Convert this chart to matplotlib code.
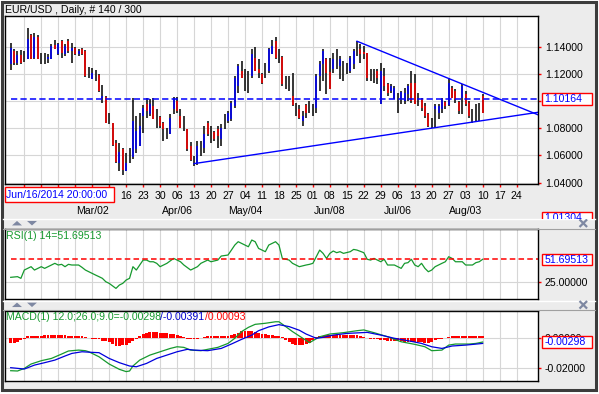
import matplotlib
matplotlib.use('Agg')
import matplotlib.pyplot as plt
import matplotlib.transforms as mtransforms
from matplotlib.patches import Rectangle, Polygon
from matplotlib.lines import Line2D
import numpy as np

plt.rcParams['font.family'] = ['Liberation Sans', 'DejaVu Sans']
plt.rcParams['font.size'] = 7.6
plt.rcParams['lines.scale_dashes'] = False

# ---- price bars (daily EUR/USD, 140 bars) ----
high = [1.1430, 1.1381, 1.1369, 1.1374, 1.1369, 1.1535, 1.1491, 1.1503, 1.1484, 1.1351,
        1.1351, 1.1349, 1.1418, 1.1450, 1.1430, 1.1447, 1.1418, 1.1454, 1.1430, 1.1398,
        1.1381, 1.1388, 1.1376, 1.1254, 1.1246, 1.1229, 1.1197, 1.1119, 1.1038, 1.0911,
        1.0842, 1.0715, 1.0690, 1.0658, 1.0621, 1.0658, 1.1026, 1.0891, 1.0915, 1.0969,
        1.1026, 1.1018, 1.1026, 1.0940, 1.0891, 1.0847, 1.0805, 1.0903, 1.1033, 1.1031,
        1.0940, 1.0891, 1.0793, 1.0700, 1.0597, 1.0707, 1.0707, 1.0817, 1.0854, 1.0817,
        1.0781, 1.0817, 1.0830, 1.0903, 1.0928, 1.1001, 1.1185, 1.1271, 1.1295, 1.1234,
        1.1222, 1.1381, 1.1401, 1.1307, 1.1209, 1.1283, 1.1388, 1.1450, 1.1472, 1.1386,
        1.1332, 1.1185, 1.1185, 1.1209, 1.0989, 1.0969, 1.0928, 1.0977, 1.1001, 1.0977,
        1.1197, 1.1295, 1.1381, 1.1320, 1.1320, 1.1356, 1.1386, 1.1332, 1.1295, 1.1283,
        1.1332, 1.1381, 1.1442, 1.1418, 1.1405, 1.1356, 1.1234, 1.1234, 1.1234, 1.1283,
        1.1246, 1.1136, 1.1124, 1.1111, 1.1062, 1.1075, 1.1099, 1.1124, 1.1222, 1.1197,
        1.1062, 1.1026, 1.0989, 1.0915, 1.0879, 1.0977, 1.0977, 1.1026, 1.1001, 1.1173,
        1.1111, 1.1087, 1.1001, 1.1124, 1.1075, 1.1001, 1.0940, 1.0977, 1.0984, 1.1050]
low = [1.1226, 1.1263, 1.1263, 1.1271, 1.1290, 1.1307, 1.1307, 1.1312, 1.1307, 1.1271,
       1.1271, 1.1283, 1.1307, 1.1381, 1.1337, 1.1320, 1.1332, 1.1356, 1.1283, 1.1337,
       1.1332, 1.1337, 1.1178, 1.1173, 1.1160, 1.1148, 1.1067, 1.0989, 1.0835, 1.0830,
       1.0670, 1.0548, 1.0487, 1.0457, 1.0487, 1.0548, 1.0577, 1.0621, 1.0670, 1.0768,
       1.0879, 1.0891, 1.0866, 1.0805, 1.0805, 1.0707, 1.0719, 1.0756, 1.0903, 1.0915,
       1.0805, 1.0781, 1.0634, 1.0560, 1.0523, 1.0531, 1.0597, 1.0621, 1.0744, 1.0695,
       1.0707, 1.0658, 1.0670, 1.0793, 1.0842, 1.0854, 1.0952, 1.1062, 1.1173, 1.1075,
       1.1062, 1.1173, 1.1222, 1.1173, 1.1124, 1.1173, 1.1209, 1.1344, 1.1307, 1.1283,
       1.1111, 1.1087, 1.1075, 1.0964, 1.0891, 1.0866, 1.0817, 1.0879, 1.0915, 1.0891,
       1.0915, 1.1075, 1.1148, 1.1050, 1.1087, 1.1209, 1.1234, 1.1160, 1.1148, 1.1197,
       1.1209, 1.1234, 1.1332, 1.1283, 1.1307, 1.1148, 1.1148, 1.1136, 1.1124, 1.0977,
       1.1075, 1.1038, 1.1062, 1.1013, 1.0915, 1.0977, 1.0977, 1.1001, 1.0989, 1.0977,
       1.0964, 1.0928, 1.0879, 1.0810, 1.0805, 1.0805, 1.0866, 1.0915, 1.0940, 1.0964,
       1.1026, 1.0989, 1.0903, 1.0903, 1.0964, 1.0879, 1.0842, 1.0854, 1.0854, 1.0915]
open_ = [1.1271, 1.1369, 1.1283, 1.1337, 1.1320, 1.1312, 1.1484, 1.1320, 1.1474, 1.1310,
         1.1300, 1.1312, 1.1312, 1.1410, 1.1344, 1.1442, 1.1344, 1.1442, 1.1369, 1.1393,
         1.1344, 1.1386, 1.1369, 1.1210, 1.1160, 1.1190, 1.1190, 1.1026, 1.1033, 1.0860,
         1.0837, 1.0695, 1.0548, 1.0646, 1.0487, 1.0600, 1.0585, 1.0646, 1.0670, 1.0891,
         1.0977, 1.0903, 1.0964, 1.0870, 1.0884, 1.0837, 1.0760, 1.0756, 1.0940, 1.1001,
         1.0891, 1.0830, 1.0793, 1.0670, 1.0560, 1.0548, 1.0650, 1.0658, 1.0842, 1.0760,
         1.0773, 1.0793, 1.0719, 1.0850, 1.0854, 1.0866, 1.0964, 1.1111, 1.1222, 1.1150,
         1.1140, 1.1185, 1.1315, 1.1234, 1.1197, 1.1230, 1.1222, 1.1344, 1.1442, 1.1330,
         1.1327, 1.1130, 1.1120, 1.1038, 1.0940, 1.0940, 1.0854, 1.0969, 1.0960, 1.0930,
         1.0952, 1.1185, 1.1271, 1.1307, 1.1214, 1.1234, 1.1300, 1.1258, 1.1200, 1.1240,
         1.1222, 1.1271, 1.1390, 1.1386, 1.1361, 1.1351, 1.1190, 1.1180, 1.1222, 1.0977,
         1.1185, 1.1124, 1.1075, 1.1026, 1.1000, 1.1013, 1.1001, 1.1050, 1.1136, 1.1136,
         1.1010, 1.1018, 1.0964, 1.0903, 1.0840, 1.0940, 1.0915, 1.0940, 1.0994, 1.0969,
         1.1099, 1.1075, 1.0994, 1.1026, 1.1050, 1.0984, 1.0880, 1.0900, 1.0920, 1.1038]
close = [1.1393, 1.1283, 1.1337, 1.1283, 1.1320, 1.1454, 1.1312, 1.1474, 1.1312, 1.1310,
         1.1300, 1.1327, 1.1405, 1.1386, 1.1418, 1.1351, 1.1405, 1.1369, 1.1393, 1.1344,
         1.1369, 1.1344, 1.1185, 1.1210, 1.1209, 1.1190, 1.1075, 1.1038, 1.0837, 1.0860,
         1.0675, 1.0553, 1.0626, 1.0494, 1.0548, 1.0600, 1.0854, 1.0781, 1.0817, 1.0952,
         1.0928, 1.0977, 1.0866, 1.0870, 1.0817, 1.0793, 1.0760, 1.0879, 1.1013, 1.0928,
         1.0805, 1.0830, 1.0646, 1.0568, 1.0560, 1.0666, 1.0650, 1.0756, 1.0756, 1.0760,
         1.0719, 1.0744, 1.0805, 1.0850, 1.0915, 1.0989, 1.1173, 1.1258, 1.1173, 1.1150,
         1.1140, 1.1344, 1.1222, 1.1209, 1.1136, 1.1230, 1.1381, 1.1405, 1.1320, 1.1330,
         1.1124, 1.1130, 1.1120, 1.0969, 1.0940, 1.0879, 1.0891, 1.0915, 1.0960, 1.0930,
         1.1185, 1.1271, 1.1369, 1.1209, 1.1092, 1.1307, 1.1300, 1.1307, 1.1200, 1.1240,
         1.1320, 1.1369, 1.1390, 1.1344, 1.1344, 1.1173, 1.1190, 1.1180, 1.1173, 1.1222,
         1.1111, 1.1062, 1.1111, 1.1099, 1.1000, 1.1067, 1.1062, 1.1111, 1.1001, 1.0977,
         1.1010, 1.0952, 1.0891, 1.0817, 1.0840, 1.0964, 1.0964, 1.1013, 1.0964, 1.1136,
         1.1026, 1.1013, 1.0928, 1.1111, 1.0977, 1.0891, 1.0880, 1.0900, 1.0920, 1.0915]
last_price = 1.10164
cursor_price = 1.01304
cursor_time = 'Jun/16/2014 20:00:00'

price_ticks = [1.04, 1.06, 1.08, 1.10, 1.12, 1.14]
week_bars = list(range(4, 150, 5))
# the first six week labels sit under the cursor time box, so they are not shown
week_labels = ['', '', '', '', '', '', '16', '23', '30', '06', '13', '20', '27', '04', '11',
               '18', '25', '01', '08', '15', '22', '29', '06', '13', '20', '27', '03', '10', '17', '24']
month_bars = [24, 49, 69, 94, 114, 134]
month_labels = ['Mar/02', 'Apr/06', 'May/04', 'Jun/08', 'Jul/06', 'Aug/03']

# trend lines: two anchor points each (bar, price)
trend_down = ([102, 129], [1.1440, 1.1166])
trend_up = ([54, 123], [1.0540, 1.0797])

# ---- RSI(14) ----
rsi_bar = [0, 2, 3, 4, 5, 6, 7, 8, 9, 10,
           12, 13, 14, 15, 16, 17, 18, 19, 20, 21,
           22, 23, 24, 25, 26, 27, 28, 29, 31, 32,
           33, 34, 35, 36, 37, 38, 39, 40, 41, 42,
           43, 44, 45, 46, 48, 49, 50, 51, 53, 55,
           56, 58, 59, 61, 62, 64, 65, 66, 67, 69,
           70, 71, 72, 73, 75, 76, 78, 79, 80, 82,
           83, 85, 87, 88, 89, 91, 92, 93, 94, 95,
           96, 97, 98, 100, 101, 102, 104, 105, 106, 107,
           109, 110, 111, 113, 115, 116, 117, 118, 119, 120,
           121, 122, 123, 124, 125, 126, 127, 128, 129, 130,
           131, 133, 134, 136, 137, 138, 139]
rsi_value = [30.2, 31.0, 29.0, 38.9, 40.9, 42.9, 38.9, 40.9, 42.9, 40.9,
             44.9, 46.9, 44.9, 45.7, 42.9, 45.7, 44.9, 44.9, 44.9, 42.1,
             38.9, 36.9, 34.9, 32.9, 31.0, 29.0, 25.0, 23.0, 17.0, 21.0,
             23.0, 27.0, 29.0, 42.9, 38.9, 44.9, 50.8, 50.8, 48.8, 48.8,
             46.9, 42.9, 44.9, 46.9, 52.8, 50.8, 48.8, 44.9, 38.9, 42.9,
             46.9, 50.8, 48.8, 50.8, 55.6, 56.8, 62.7, 68.7, 72.7, 68.7,
             66.7, 74.7, 72.7, 64.7, 60.8, 68.7, 72.7, 68.7, 52.8, 50.8,
             46.9, 42.9, 44.9, 45.7, 46.9, 62.7, 58.8, 52.8, 58.8, 61.6,
             59.6, 60.8, 58.8, 60.8, 63.5, 62.7, 59.6, 51.7, 50.8, 52.8,
             48.8, 51.7, 44.9, 44.9, 40.9, 46.9, 47.7, 51.7, 44.9, 42.9,
             46.9, 40.9, 36.9, 38.9, 42.9, 44.9, 46.9, 48.8, 54.8, 52.8,
             48.8, 48.8, 44.9, 44.9, 47.7, 48.8, 51.69513]
rsi_last = 51.69513

# ---- MACD(12, 26, 9) ----
macd_bar = [0, 2, 4, 6, 9, 12, 15, 17, 20, 22, 23, 26, 29, 32, 34, 35, 36, 38, 41, 44,
            47, 49, 51, 53, 56, 58, 61, 64, 66, 68, 70, 72, 75, 78, 79, 81, 83, 85, 88, 91,
            94, 98, 102, 104, 107, 111, 115, 119, 122, 124, 127, 129, 131, 135, 137, 139]
macd_value = [-0.0219, -0.0221, -0.0204, -0.0175, -0.0153, -0.0138, -0.0109, -0.0089, -0.0083, -0.0087,
              -0.0094, -0.0127, -0.0175, -0.0210, -0.0225, -0.0221, -0.0188, -0.0149, -0.0116, -0.0094,
              -0.0072, -0.0061, -0.0065, -0.0083, -0.0087, -0.0078, -0.0065, -0.0039, -0.0005, 0.0039,
              0.0067, 0.0087, 0.0094, 0.0104, 0.0104, 0.0072, 0.0039, 0.0010, -0.0034, 0.0005,
              0.0023, 0.0032, 0.0045, 0.0050, 0.0032, 0.0005, -0.0028, -0.0045, -0.0061, -0.0087,
              -0.0083, -0.0050, -0.0043, -0.0043, -0.0039, -0.00298]
signal_bar = [0, 4, 7, 10, 13, 16, 18, 21, 24, 26, 29, 32, 35, 37, 40, 43, 46, 49, 52, 54,
              58, 62, 65, 68, 71, 73, 76, 79, 82, 85, 87, 90, 92, 95, 99, 105, 109, 113, 117, 121,
              124, 127, 130, 134, 139]
signal_value = [-0.0199, -0.0208, -0.0182, -0.0166, -0.0149, -0.0122, -0.0105, -0.0094, -0.0098, -0.0100,
                -0.0138, -0.0166, -0.0188, -0.0193, -0.0171, -0.0138, -0.0116, -0.0094, -0.0078, -0.0083,
                -0.0087, -0.0072, -0.0043, -0.0012, 0.0016, 0.0045, 0.0070, 0.0085, 0.0072, 0.0048,
                0.0023, -0.0005, 0.0001, 0.0016, 0.0027, 0.0034, 0.0016, -0.0005, -0.0021, -0.0039,
                -0.0061, -0.0072, -0.0056, -0.0050, -0.00391]
macd_hist = [-0.0039, -0.0034, -0.0028, -0.0017, -0.0012, 0.0008, 0.0008, 0.0008, 0.0008, 0.0010,
             0.0016, 0.0016, 0.0018, 0.0018, 0.0016, 0.0016, 0.0014, 0.0012, 0.0010, 0.0010,
             0.0010, 0.0008, 0.0005, -0.0005, -0.0008, -0.0010, -0.0012, -0.0020, -0.0025, -0.0030,
             -0.0045, -0.0055, -0.0055, -0.0052, -0.0050, -0.0035, -0.0025, -0.0010, 0.0010, 0.0020,
             0.0030, 0.0035, 0.0035, 0.0035, 0.0030, 0.0030, 0.0028, 0.0025, 0.0022, 0.0018,
             0.0012, 0.0005, -0.0008, -0.0012, -0.0012, -0.0010, -0.0005, 0.0005, 0.0008, 0.0008,
             0.0008, 0.0008, 0.0010, 0.0010, 0.0012, 0.0015, 0.0020, 0.0030, 0.0040, 0.0045,
             0.0045, 0.0042, 0.0035, 0.0028, 0.0025, 0.0022, 0.0018, 0.0016, 0.0012, 0.0008,
             0.0003, -0.0015, -0.0030, -0.0040, -0.0048, -0.0050, -0.0050, -0.0045, -0.0035, -0.0015,
             0.0003, 0.0008, 0.0012, 0.0015, 0.0018, 0.0018, 0.0016, 0.0015, 0.0015, 0.0014,
             0.0015, 0.0016, 0.0015, 0.0010, 0.0003, -0.0005, -0.0008, -0.0008, -0.0010, -0.0015,
             -0.0018, -0.0020, -0.0020, -0.0022, -0.0020, -0.0025, -0.0028, -0.0030, -0.0030, -0.0032,
             -0.0030, -0.0032, -0.0035, -0.0033, -0.0030, -0.0015, -0.0012, -0.0010, -0.0005, 0.0005,
             0.0010, 0.0012, 0.0010, 0.0010, 0.0008, 0.0008, 0.0009, 0.0010, 0.0009, 0.00093]
macd_last = [-0.00298, -0.00391, 0.00093]

GREEN = '#16992e'
BLUE = '#0000ff'
RED = '#ff0000'
ICON = '#7e88a2'

W, H = 599, 394
fig = plt.figure(figsize=(W / 100, H / 100), dpi=100)


def px_rect(x0, y0, x1, y1, **kw):
    r = Rectangle((x0 / W, 1 - y1 / H), (x1 - x0) / W, (y1 - y0) / H,
                  transform=fig.transFigure, **kw)
    fig.add_artist(r)
    return r


def px_hline(x0, x1, y, **kw):
    fig.add_artist(Line2D([x0 / W, x1 / W], [1 - y / H] * 2, transform=fig.transFigure, **kw))


def px_text(x, y, s, **kw):
    return fig.text(x / W, 1 - y / H, s, **kw)


def px_tri(cx, cy, up):
    w, h = 10, 4.5
    if up:
        pts = [(cx - w / 2, cy + h / 2), (cx + w / 2, cy + h / 2), (cx, cy - h / 2)]
    else:
        pts = [(cx - w / 2, cy - h / 2), (cx + w / 2, cy - h / 2), (cx, cy + h / 2)]
    fig.add_artist(Polygon([(x / W, 1 - y / H) for x, y in pts], closed=True,
                           transform=fig.transFigure, facecolor=ICON, edgecolor='none'))


def px_cross(cx, cy):
    for d in (1, -1):
        fig.add_artist(Line2D([(cx - 3) / W, (cx + 3) / W], [1 - (cy - 3 * d) / H, 1 - (cy + 3 * d) / H],
                              transform=fig.transFigure, color=ICON, lw=1.6))


# background and frame
px_rect(0, 0, W, H, facecolor='white', edgecolor='none', zorder=-3)
px_rect(1.5, 1.5, 596, 390.3, facecolor='#ececec', edgecolor='#3c3c3c', linewidth=2.2, zorder=-2)

X_LEFT, X_RIGHT = -1.68, 155.3


def make_ax(y0, y1):
    a = fig.add_axes([5 / W, 1 - y1 / H, 533 / W, (y1 - y0) / H])
    a.set_facecolor('white')
    a.set_xlim(X_LEFT, X_RIGHT)
    for s in a.spines.values():
        s.set_color('black')
        s.set_linewidth(1.0)
    a.set_xticks(week_bars)
    a.grid(True, color='#d6d6d6', linewidth=0.8)
    a.set_axisbelow(True)
    a.yaxis.tick_right()
    a.tick_params(axis='y', colors=RED, labelcolor='black', length=2.5, width=1, pad=2.5, labelsize=7.6)
    a.tick_params(axis='x', colors=RED, labelcolor='black', length=2, width=1, pad=3.0, labelsize=7.6)
    return a


ax = make_ax(16, 184)
ax_rsi = make_ax(229.3, 299.3)
ax_macd = make_ax(310.7, 380.7)

# ---- price panel ----
idx = np.arange(len(high))
o = np.array(open_)
c = np.array(close)
ax.vlines(idx, low, high, color='black', linewidth=1.1, capstyle='butt')
up = c > o
dn = c < o
ax.vlines(idx[up], o[up], c[up], color=BLUE, linewidth=1.1, capstyle='butt')
ax.vlines(idx[dn], c[dn], o[dn], color=RED, linewidth=1.1, capstyle='butt')

ax.plot([0, X_RIGHT], [last_price, last_price], color=BLUE, linewidth=1.1, dashes=(4.5, 2.3))
for xs, ys in (trend_down, trend_up):
    slope = (ys[1] - ys[0]) / (xs[1] - xs[0])
    ax.plot([xs[0], X_RIGHT], [ys[0], ys[0] + slope * (X_RIGHT - xs[0])], color=BLUE, linewidth=1.0)

ax.set_ylim(1.0390, 1.16257)
ax.set_yticks(price_ticks)
ax.set_yticklabels([f'{v:.5f}' for v in price_ticks])
ax.set_xticklabels(week_labels)

trans = mtransforms.blended_transform_factory(ax.transData, fig.transFigure)
for b, lab in zip(month_bars, month_labels):
    ax.text(b, 1 - 210.7 / H, lab, transform=trans, ha='center', va='center', fontsize=7.6, clip_on=False)

# ---- RSI panel ----
ax_rsi.plot(rsi_bar, rsi_value, color=GREEN, linewidth=0.9)
ax_rsi.plot([0, X_RIGHT], [rsi_last, rsi_last], color=RED, linewidth=1.1, dashes=(4.0, 2.3))
ax_rsi.set_ylim(4.0, 87.5)
ax_rsi.set_yticks([25])
ax_rsi.set_yticklabels(['25.00000'])
ax_rsi.tick_params(axis='x', length=0, labelbottom=False)

# ---- MACD panel ----
ax_macd.bar(np.arange(len(macd_hist)), macd_hist, width=0.85, color=RED, linewidth=0, zorder=2)
ax_macd.plot(macd_bar, macd_value, color=GREEN, linewidth=0.9, zorder=3)
ax_macd.plot(signal_bar, signal_value, color='#0000dd', linewidth=0.9, zorder=3)
ax_macd.set_ylim(-0.0285, 0.0177)
ax_macd.set_yticks([0.0, -0.02])
ax_macd.set_yticklabels(['0.00000', '-0.02000'])
ax_macd.tick_params(axis='x', length=0, labelbottom=False)


def value_box(a, v, s):
    y = H - a.transData.transform((0, v))[1]
    px_rect(541.5, y - 5.8, 591.5, y + 5.8, facecolor='white', edgecolor=RED, linewidth=1.0, zorder=5)
    px_text(544.5, y + 0.3, s, color=BLUE, ha='left', va='center', fontsize=7.6, zorder=6)


value_box(ax, last_price, f'{last_price:.5f}')
value_box(ax_rsi, rsi_last, f'{rsi_last:.5f}')
value_box(ax_macd, macd_last[0], f'{macd_last[0]:.5f}')

# cursor boxes
px_rect(5, 187.3, 114.3, 202.3, facecolor='white', edgecolor=RED, linewidth=1.0, zorder=5)
px_text(6.5, 195.2, cursor_time, color=BLUE, ha='left', va='center', fontsize=7.6, zorder=6)
clip = mtransforms.Bbox.from_extents(530, H - 219.0, W, H - 200)
r = px_rect(541.7, 211.7, 591.7, 230, facecolor='white', edgecolor=RED, linewidth=1.0, zorder=5)
r.set_clip_box(clip)
t = px_text(544.5, 217.8, f'{cursor_price:.5f}', color=BLUE, ha='left', va='center', fontsize=7.6, zorder=6)
t.set_clip_box(clip)
t.set_clip_on(True)

# separators, arrows, close icons
px_hline(3, 595, 219.3, color='white', linewidth=1.0)
px_hline(3, 595, 228.6, color='#a0a0a0', linewidth=0.8)
px_hline(3, 595, 300.6, color='white', linewidth=1.0)
px_hline(3, 595, 310.0, color='#a0a0a0', linewidth=0.8)
for yy in (223.2, 304.8):
    px_tri(17.0, yy, True)
    px_tri(32.0, yy, False)
    px_cross(583.3, yy)

# titles
px_text(5, 9.8, 'EUR/USD , Daily, # 140 / 300', ha='left', va='center', fontsize=7.6)
px_text(5.5, 235.7, f'RSI(1) 14={rsi_last:.5f}', color=GREEN, ha='left', va='center', fontsize=7.6)

renderer = fig.canvas.get_renderer()
x = 5.5
parts = [(f'MACD(1) 12.0;26.0;9.0={macd_last[0]:.5f}', GREEN),
         (f'/{macd_last[1]:.5f}', '#0000cc'),
         (f'/{macd_last[2]:.5f}', RED)]
for s, col in parts:
    tt = px_text(x, 316.9, s, color=col, ha='left', va='center', fontsize=7.6)
    x = tt.get_window_extent(renderer).x1

fig.savefig('out.png', dpi=100, facecolor='white')
